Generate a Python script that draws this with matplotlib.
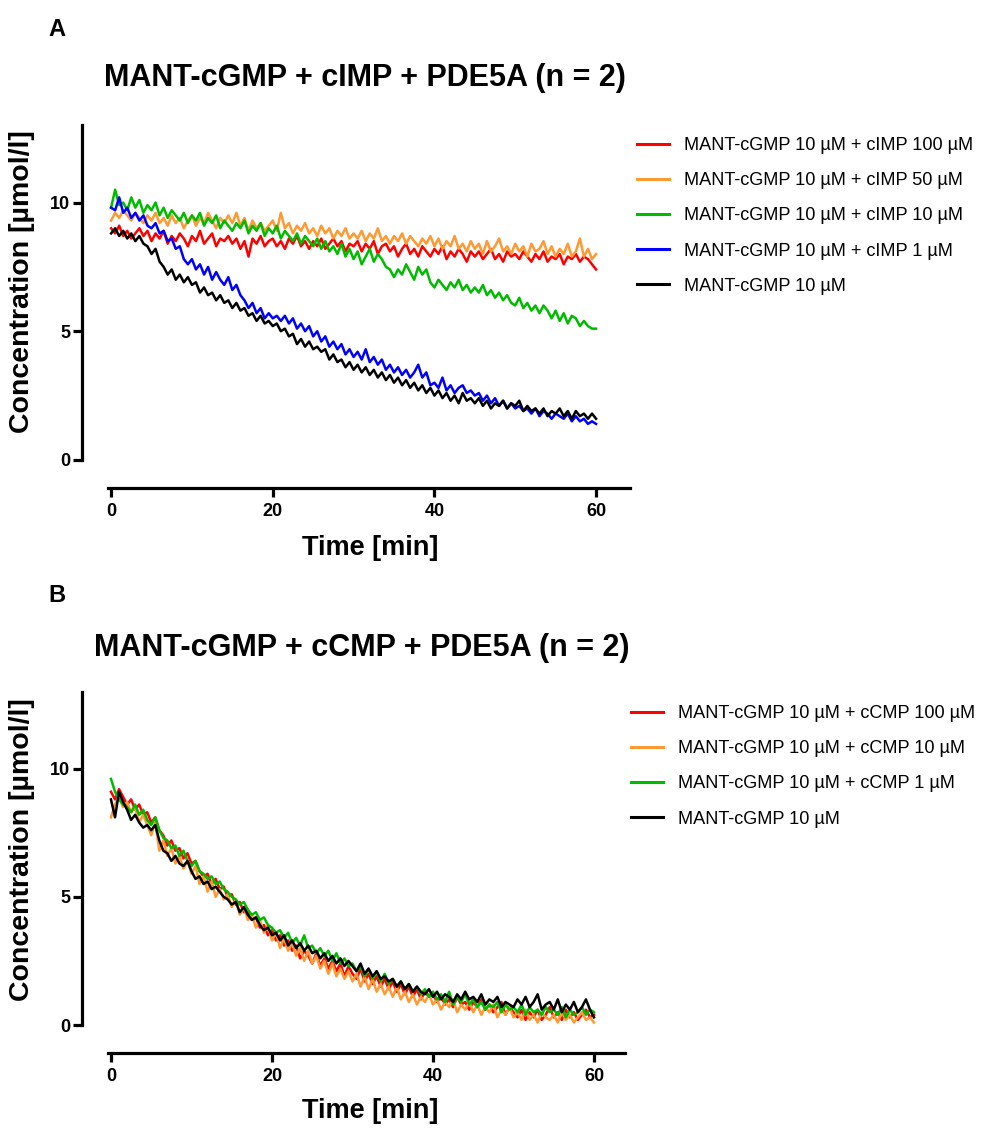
import numpy as np
import matplotlib
matplotlib.use("Agg")
from matplotlib import pyplot as plt

plt.rcParams["font.family"] = ["Liberation Sans", "DejaVu Sans"]

# time axis: one reading every 0.5 min, 0 .. 60 min
time_min = np.arange(121) * 0.5

# panel A: MANT-cGMP + cIMP + PDE5A
a_cimp_100 = [
    9.0, 8.8, 9.1, 8.7, 8.9, 8.6, 8.8, 9.0, 8.7, 8.9,
    8.5, 8.8, 8.6, 8.9, 8.4, 8.7, 8.5, 8.8, 8.6, 8.3,
    8.7, 8.5, 8.9, 8.4, 8.6, 8.8, 8.3, 8.6, 8.5, 8.7,
    8.4, 8.6, 8.2, 8.5, 7.9, 8.6, 8.4, 8.7, 8.3, 8.5,
    8.6, 8.3, 8.5, 8.2, 8.6, 8.4, 8.7, 8.3, 8.5, 8.2,
    8.5, 8.3, 8.6, 8.2, 8.4, 8.6, 8.3, 8.5, 8.1, 8.4,
    8.3, 8.5, 8.1, 8.4, 8.2, 8.5, 8.0, 8.3, 8.4, 8.1,
    8.3, 7.9, 8.2, 8.4, 8.0, 8.2, 7.9, 8.3, 8.1, 7.9,
    8.2, 8.0, 8.3, 7.8, 8.1, 7.9, 8.2, 8.0, 7.7, 8.1,
    7.9, 8.1, 7.8, 8.0, 8.2, 7.8, 8.0, 7.7, 8.1, 7.9,
    8.0, 7.8, 8.1, 7.9, 7.7, 8.0, 7.8, 8.1, 7.7, 7.9,
    7.8, 8.0, 7.6, 7.9, 7.8, 8.0, 7.7, 7.9, 7.8, 7.6,
    7.4,
]
a_cimp_50 = [
    9.3, 9.6, 9.4, 9.7, 9.5, 9.3, 9.6, 9.4, 9.2, 9.5,
    9.3, 9.6, 9.2, 9.4, 9.1, 9.5, 9.2, 9.4, 9.0, 9.3,
    9.5, 9.1, 9.4, 9.2, 9.6, 9.3, 9.0, 9.4, 9.2, 9.5,
    9.2, 9.6, 9.1, 9.4, 8.9, 9.3, 9.0, 9.2, 8.9, 9.1,
    9.3, 8.9, 9.6, 9.0, 9.2, 8.8, 9.1, 8.9, 9.2, 8.8,
    9.0, 8.7, 9.1, 8.8, 9.0, 8.6, 8.9, 8.7, 9.0, 8.6,
    8.8, 8.6, 8.9, 8.5, 8.8, 8.6, 9.0, 8.5, 8.7, 8.4,
    8.7, 8.5, 8.8, 8.4, 8.7, 8.5, 8.3, 8.6, 8.4, 8.7,
    8.3, 8.6, 8.2, 8.5, 8.3, 8.7, 8.2, 8.4, 8.1, 8.5,
    8.2, 8.4, 8.0, 8.5, 8.1, 8.3, 8.6, 8.1, 8.3, 8.0,
    8.4, 8.1, 8.3, 7.9, 8.4, 8.1, 8.2, 8.5, 8.0, 8.3,
    7.9, 8.2, 8.0, 8.4, 7.9, 8.1, 8.6, 7.9, 8.2, 7.8,
    8.0,
]
a_cimp_10 = [
    9.8, 10.5, 9.9, 10.0, 9.7, 10.2, 9.8, 10.1, 9.6, 9.9,
    9.7, 10.0, 9.5, 9.8, 9.4, 9.7, 9.5, 9.3, 9.6, 9.2,
    9.5, 9.3, 9.6, 9.1, 9.4, 9.2, 9.5, 9.0, 9.3, 9.1,
    8.9, 9.2, 9.0, 9.3, 8.8, 9.1, 8.9, 9.2, 8.7, 9.0,
    8.8, 9.1, 8.6, 8.9, 8.7, 8.5, 8.8, 8.4, 8.7, 8.5,
    8.3, 8.6, 8.2, 8.5, 8.1, 8.3, 8.0, 8.4, 7.9, 8.2,
    7.8, 8.1, 7.6, 7.9, 8.2, 7.7, 8.0, 7.8, 7.5, 7.4,
    7.1, 7.4, 7.2, 7.6, 7.3, 7.0, 7.5, 7.2, 7.4, 6.9,
    6.7, 7.0, 6.8, 6.6, 6.9, 6.7, 7.0, 6.6, 6.8, 6.5,
    6.7, 6.5, 6.8, 6.4, 6.6, 6.3, 6.5, 6.2, 6.4, 6.1,
    6.0, 6.3, 5.9, 6.1, 5.8, 6.0, 5.7, 6.0, 5.8, 5.5,
    5.8, 5.4, 5.7, 5.3, 5.6, 5.5, 5.2, 5.4, 5.2, 5.1,
    5.1,
]
a_cimp_1 = [
    9.8, 9.7, 10.2, 9.6, 9.8, 9.4, 9.6, 9.3, 9.5, 9.1,
    9.0, 9.2, 8.8, 8.9, 8.5, 8.6, 8.2, 8.3, 7.8, 7.6,
    7.8, 7.4, 7.6, 7.2, 7.5, 7.0, 7.3, 7.0, 6.8, 7.1,
    6.6, 6.8, 6.4, 6.2, 5.9, 6.1, 5.7, 5.9, 5.5, 5.7,
    5.5, 5.6, 5.4, 5.6, 5.3, 5.5, 5.1, 5.3, 5.0, 5.2,
    4.8, 5.0, 4.6, 4.8, 4.4, 4.6, 4.3, 4.5, 4.1, 4.3,
    4.0, 4.2, 3.9, 4.3, 3.8, 4.0, 3.7, 3.9, 3.5, 3.7,
    3.4, 3.6, 3.3, 3.5, 3.2, 3.4, 3.7, 3.2, 3.4, 2.9,
    3.0, 2.8, 3.2, 2.7, 2.9, 2.6, 2.8, 2.9, 2.6, 2.7,
    2.5, 2.6, 2.3, 2.5, 2.2, 2.4, 2.1, 2.3, 2.0, 2.2,
    2.0, 2.1, 1.9, 2.0, 1.8, 2.0, 1.7, 1.9, 1.8, 1.6,
    1.8, 1.7, 1.6, 1.8, 1.5, 1.7, 1.5, 1.6, 1.4, 1.5,
    1.4,
]
a_cgmp_only = [
    8.8, 9.0, 8.7, 8.9, 8.6, 8.8, 8.5, 8.7, 8.4, 8.3,
    8.0, 8.2, 7.7, 7.5, 7.2, 7.4, 7.0, 7.2, 6.9, 7.1,
    6.8, 6.9, 6.5, 6.7, 6.4, 6.5, 6.2, 6.4, 6.1, 6.2,
    5.9, 6.1, 5.8, 5.9, 5.6, 5.7, 5.4, 5.6, 5.3, 5.4,
    5.2, 5.3, 5.0, 5.1, 4.8, 4.9, 4.5, 4.7, 4.4, 4.6,
    4.3, 4.4, 4.2, 4.3, 3.9, 4.1, 3.8, 3.9, 3.6, 3.8,
    3.5, 3.7, 3.4, 3.6, 3.3, 3.5, 3.2, 3.4, 3.1, 3.3,
    3.0, 3.2, 2.9, 3.1, 2.8, 3.0, 2.7, 2.9, 2.6, 2.8,
    2.5, 2.7, 2.4, 2.6, 2.3, 2.5, 2.2, 2.6, 2.3, 2.4,
    2.2, 2.4, 2.1, 2.3, 2.0, 2.2, 2.1, 2.3, 2.0, 2.2,
    2.1, 2.3, 1.9, 2.1, 1.9, 2.0, 1.8, 2.0, 1.7, 1.9,
    1.8, 2.0, 1.7, 1.9, 1.6, 1.9, 1.7, 1.8, 1.6, 1.8,
    1.6,
]

# panel B: MANT-cGMP + cCMP + PDE5A
b_ccmp_100 = [
    9.1, 8.8, 9.2, 8.9, 8.6, 8.8, 8.4, 8.6, 8.2, 8.3,
    7.9, 8.1, 7.6, 7.4, 7.0, 7.2, 6.8, 6.9, 6.5, 6.7,
    6.3, 6.4, 6.0, 5.8, 5.9, 5.5, 5.7, 5.3, 5.4, 5.0,
    5.1, 4.7, 4.8, 4.4, 4.5, 4.1, 4.2, 3.8, 3.9, 3.5,
    3.7, 3.3, 3.5, 3.1, 3.3, 2.9, 3.1, 2.6, 2.9, 2.7,
    2.4, 2.8, 2.3, 2.6, 2.2, 2.5, 2.1, 2.4, 1.9, 2.3,
    2.0, 1.8, 2.2, 1.7, 2.0, 1.6, 1.9, 1.5, 1.8, 1.4,
    1.7, 1.3, 1.6, 1.2, 1.5, 1.1, 1.4, 1.0, 1.3, 1.1,
    1.2, 0.9, 1.1, 0.8, 1.0, 0.7, 1.1, 0.8, 0.9, 0.6,
    0.9, 0.7, 1.0, 0.6, 0.8, 0.5, 0.7, 0.9, 0.4, 0.7,
    0.5, 0.3, 0.6, 0.2, 0.5, 0.3, 0.6, 0.2, 0.4, 0.7,
    0.3, 0.5, 0.2, 0.6, 0.3, 0.5, 0.2, 0.4, 0.6, 0.3,
    0.4,
]
b_ccmp_10 = [
    8.1, 8.6, 8.9, 8.5, 8.7, 8.3, 8.5, 7.9, 8.2, 7.8,
    7.4, 7.9, 6.8, 7.2, 6.6, 6.9, 6.3, 6.6, 6.1, 6.4,
    5.9, 6.2, 5.5, 5.8, 5.2, 5.6, 5.0, 5.3, 4.9, 5.1,
    4.6, 4.9, 4.3, 4.6, 4.1, 4.3, 3.8, 4.1, 3.6, 3.9,
    3.3, 3.6, 3.0, 3.4, 2.9, 3.2, 2.7, 3.0, 2.5, 2.9,
    2.4, 2.7, 2.2, 2.5, 2.0, 2.4, 1.9, 2.2, 1.8, 2.1,
    1.7, 2.0, 1.5, 1.9, 1.4, 1.8, 1.3, 1.6, 1.2, 1.5,
    1.1, 1.5, 1.0, 1.3, 0.9, 1.2, 0.8, 1.1, 0.9, 1.2,
    0.8, 1.0, 0.6, 0.9, 0.7, 1.0, 0.5, 0.8, 0.6, 0.9,
    0.5, 0.8, 0.4, 0.7, 0.5, 0.8, 0.3, 0.6, 0.4, 0.7,
    0.3, 0.5, 0.2, 0.6, 0.2, 0.4, 0.1, 0.5, 0.3, 0.2,
    0.4, 0.1, 0.5, 0.2, 0.4, 0.1, 0.3, 0.5, 0.2, 0.3,
    0.1,
]
b_ccmp_1 = [
    9.6, 9.1, 8.8, 8.6, 8.5, 8.3, 8.6, 8.2, 8.4, 8.0,
    7.8, 8.1, 7.6, 7.3, 7.2, 6.9, 7.0, 6.6, 6.8, 6.4,
    6.2, 6.4, 6.0, 5.9, 5.7, 5.8, 5.5, 5.6, 5.3, 5.2,
    5.0, 4.9, 4.7, 4.8, 4.5, 4.3, 4.4, 4.1, 4.2, 3.9,
    3.8, 3.6, 3.7, 3.4, 3.6, 3.2, 3.4, 3.1, 3.5, 3.0,
    3.1, 2.8, 3.0, 2.7, 2.9, 2.5, 2.8, 2.4, 2.6, 2.3,
    2.4, 2.1, 2.3, 1.9, 2.2, 1.8, 2.1, 1.7, 2.0, 1.6,
    1.8, 1.5, 1.7, 1.4, 1.6, 1.3, 1.5, 1.2, 1.4, 1.1,
    1.3, 1.0, 1.2, 0.9, 1.3, 0.8, 1.1, 0.9, 1.2, 0.8,
    1.0, 0.7, 0.9, 0.6, 0.8, 0.7, 0.9, 0.5, 0.8, 0.6,
    0.7, 0.5, 0.8, 0.4, 0.7, 0.5, 0.6, 0.4, 0.7, 0.5,
    0.6, 0.4, 0.7, 0.3, 0.6, 0.4, 0.5, 0.7, 0.4, 0.6,
    0.5,
]
b_cgmp_only = [
    8.8, 8.1, 9.1, 8.7, 8.4, 8.0, 8.2, 7.9, 7.7, 7.8,
    7.6, 7.8, 7.2, 6.8, 6.7, 6.4, 6.6, 6.3, 6.2, 6.4,
    6.0, 5.7, 5.8, 5.5, 5.6, 5.3, 5.4, 5.2, 5.0, 4.9,
    4.7, 4.8, 4.4, 4.6, 4.3, 4.1, 4.2, 3.9, 3.7, 3.8,
    3.5, 3.6, 3.3, 3.5, 3.1, 3.3, 3.0, 3.2, 2.9, 3.1,
    2.8, 2.9, 2.6, 2.8, 2.5, 2.7, 2.4, 2.6, 2.3, 2.5,
    2.3, 2.1, 2.4, 2.0, 2.2, 1.9, 2.1, 1.8, 1.9, 1.7,
    1.8, 1.5, 1.7, 1.4, 1.6, 1.3, 1.5, 1.3, 1.2, 1.4,
    1.1, 1.3, 1.0, 1.2, 1.1, 0.9, 1.2, 1.0, 1.3, 1.0,
    1.1, 0.9, 1.2, 0.8, 1.0, 0.9, 1.1, 0.7, 0.9, 0.8,
    0.7, 1.0, 0.8, 1.1, 0.7, 0.9, 1.2, 0.6, 0.8, 0.9,
    0.6, 1.0, 0.5, 0.8, 0.6, 0.9, 0.5, 0.7, 1.0, 0.6,
    0.3,
]

labels_a = [
    "MANT-cGMP 10 µM + cIMP 100 µM",
    "MANT-cGMP 10 µM + cIMP 50 µM",
    "MANT-cGMP 10 µM + cIMP 10 µM",
    "MANT-cGMP 10 µM + cIMP 1 µM",
    "MANT-cGMP 10 µM",
]
labels_b = [
    "MANT-cGMP 10 µM + cCMP 100 µM",
    "MANT-cGMP 10 µM + cCMP 10 µM",
    "MANT-cGMP 10 µM + cCMP 1 µM",
    "MANT-cGMP 10 µM",
]
colors_a = ["#ff0000", "#ff9933", "#00bb00", "#0000ff", "#000000"]
colors_b = ["#ff0000", "#ff9933", "#00bb00", "#000000"]

W, H = 985, 1128
fig = plt.figure(figsize=(W / 100, H / 100), dpi=100)


def px_axes(left, right, top, bottom):
    # axes rectangle given in pixel coordinates of the figure
    return fig.add_axes([left / W, 1 - bottom / H, (right - left) / W, (bottom - top) / H])


def style_axes(ax, xlim, ylim, xbound):
    ax.set_xlim(*xlim)
    ax.set_ylim(*ylim)
    for side in ["top", "right"]:
        ax.spines[side].set_visible(False)
    for side in ["left", "bottom"]:
        ax.spines[side].set_linewidth(2.3)
    ax.spines["left"].set_bounds(0, 13)
    ax.spines["bottom"].set_bounds(*xbound)
    ax.set_xticks([0, 20, 40, 60])
    ax.set_yticks([0, 5, 10])
    ax.tick_params(width=2.3, length=6.5, labelsize=13, direction="out")
    ax.tick_params(axis="x", pad=4)
    ax.tick_params(axis="y", pad=2)
    for lab in ax.get_xticklabels() + ax.get_yticklabels():
        lab.set_fontweight("bold")


# panel A
ax_a = px_axes(82, 630, 124, 488)
series_a = [a_cimp_100, a_cimp_50, a_cimp_10, a_cimp_1, a_cgmp_only]
handles_a = []
for vals, col, lab in zip(series_a, colors_a, labels_a):
    (ln,) = ax_a.plot(time_min, vals, color=col, lw=1.8, label=lab)
    handles_a.append(ln)
style_axes(ax_a, (-3.6, 64.2), (-1.09, 13.05), (-0.4, 64.2))

# panel B
ax_b = px_axes(82, 625, 693, 1053)
series_b = [b_ccmp_100, b_ccmp_10, b_ccmp_1, b_cgmp_only]
handles_b = []
for vals, col, lab in zip(series_b, colors_b, labels_b):
    (ln,) = ax_b.plot(time_min, vals, color=col, lw=1.8, label=lab)
    handles_b.append(ln)
style_axes(ax_b, (-3.6, 63.85), (-1.09, 12.95), (-0.4, 63.85))

legend_kw = dict(
    loc="upper left",
    frameon=False,
    borderpad=0,
    borderaxespad=0,
    handlelength=1.75,
    handletextpad=0.85,
    labelspacing=1.0,
    prop={"family": "Liberation Sans", "size": 13.1},
)
leg_a = fig.legend(handles_a, labels_a, bbox_to_anchor=(637 / W, 1 - 137 / H), **legend_kw)
leg_b = fig.legend(handles_b, labels_b, bbox_to_anchor=(631 / W, 1 - 705 / H), **legend_kw)
for leg in (leg_a, leg_b):
    for ln in leg.get_lines():
        ln.set_linewidth(2.2)

# titles, panel letters and axis labels
fig.text(48 / W, 1 - 30 / H, "A", fontsize=17, fontweight="bold", ha="left", va="center")
fig.text(48 / W, 1 - 596 / H, "B", fontsize=17, fontweight="bold", ha="left", va="center")
fig.text(365 / W, 1 - 78 / H, "MANT-cGMP + cIMP + PDE5A (n = 2)",
         fontsize=22, fontweight="bold", ha="center", va="center")
fig.text(362 / W, 1 - 648 / H, "MANT-cGMP + cCMP + PDE5A (n = 2)",
         fontsize=22, fontweight="bold", ha="center", va="center")
fig.text(370 / W, 1 - 548 / H, "Time [min]", fontsize=19.5, fontweight="bold", ha="center", va="center")
fig.text(370 / W, 1 - 1111 / H, "Time [min]", fontsize=19.5, fontweight="bold", ha="center", va="center")
fig.text(22 / W, 1 - 282 / H, "Concentration [µmol/l]", fontsize=20.5, fontweight="bold",
         rotation=90, ha="center", va="center")
fig.text(22 / W, 1 - 850 / H, "Concentration [µmol/l]", fontsize=20.5, fontweight="bold",
         rotation=90, ha="center", va="center")

fig.savefig("out.png", dpi=100)
